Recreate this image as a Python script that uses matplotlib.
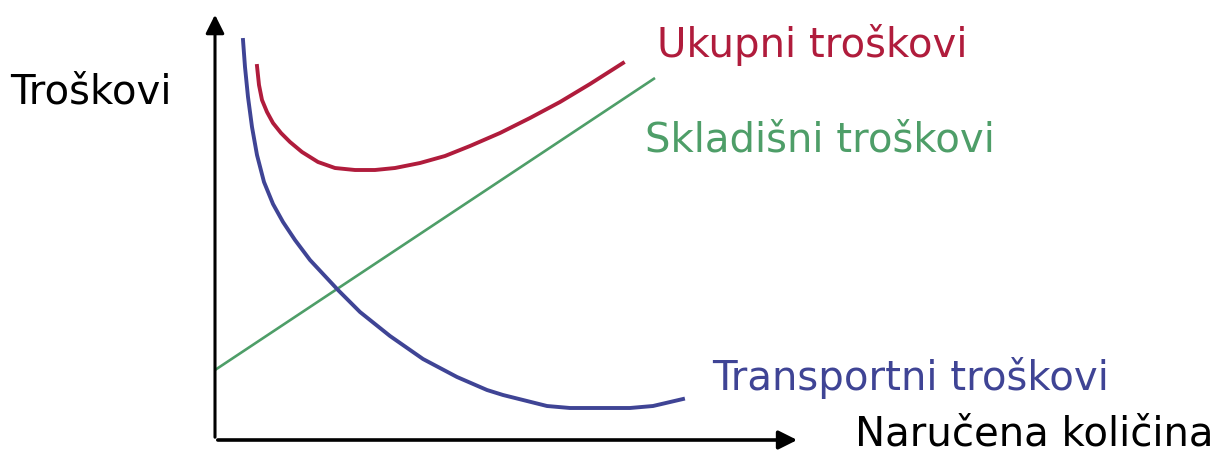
import matplotlib.pyplot as plt
import numpy as np

# Podaci ocitani sa slike (x = narucena kolicina, y = troskovi, proizvoljne jedinice)
skladisni_x = [0.0, 44.0]
skladisni_y = [7.0, 36.2]

transport_x = [2.8, 3.0, 3.3, 3.7, 4.2, 4.9, 5.8, 6.8, 8.0, 9.5, 12.3, 14.5,
               17.5, 20.8, 24.2, 27.2, 28.8, 33.2, 35.5, 41.5, 43.8, 46.8]
transport_y = [40.0, 37.3, 34.3, 31.3, 28.5, 25.8, 23.6, 21.8, 20.0, 18.0, 15.0, 12.8,
               10.4, 8.1, 6.3, 5.0, 4.5, 3.4, 3.2, 3.2, 3.4, 4.1]

ukupni_x = [4.2, 4.4, 4.7, 5.2, 5.8, 6.6, 7.5, 8.7, 10.3, 12.0, 14.0, 16.0,
            18.0, 20.5, 23.0, 25.5, 28.5, 31.5, 34.5, 37.5, 40.8]
ukupni_y = [37.4, 35.5, 34.0, 32.8, 31.7, 30.7, 29.8, 28.8, 27.8, 27.2, 27.0, 27.0,
            27.2, 27.7, 28.4, 29.4, 30.7, 32.2, 33.8, 35.6, 37.7]

red = '#B01C3C'
green = '#4E9E68'
blue = '#3F4495'

fig = plt.figure(figsize=(12.28, 4.57), dpi=100)
ax = fig.add_axes([0, 0, 1, 1])
ax.set_xlim(-21.5, 101.3)
ax.set_ylim(-1.7, 44.0)
ax.axis('off')

# Osi sa strelicama
ax.annotate('', xy=(0, 42.8), xytext=(0, 0),
            arrowprops=dict(arrowstyle='-|>', lw=2.2, color='black', mutation_scale=28))
ax.annotate('', xy=(58.5, 0), xytext=(0, 0),
            arrowprops=dict(arrowstyle='-|>', lw=2.6, color='black', mutation_scale=28))

ax.plot(skladisni_x, skladisni_y, color=green, lw=1.9, solid_capstyle='butt')
ax.plot(transport_x, transport_y, color=blue, lw=2.8, solid_joinstyle='round')
ax.plot(ukupni_x, ukupni_y, color=red, lw=2.8, solid_joinstyle='round')

fs = 29
ax.text(-20.5, 34.8, 'Troškovi', fontsize=fs, va='center', ha='left', color='black')
ax.text(44.2, 39.5, 'Ukupni troškovi', fontsize=fs, va='center', ha='left', color=red)
ax.text(43.0, 30.0, 'Skladišni troškovi', fontsize=fs, va='center', ha='left', color=green)
ax.text(49.7, 6.2, 'Transportni troškovi', fontsize=fs, va='center', ha='left', color=blue)
ax.text(64.0, 0.5, 'Naručena količina', fontsize=fs, va='center', ha='left', color='black')

plt.savefig('out.png', dpi=100)
